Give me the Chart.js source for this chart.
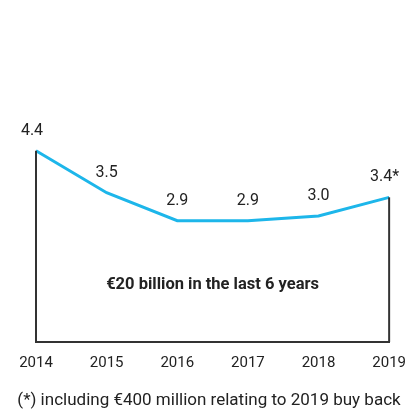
<!DOCTYPE html>
<html>
<head>
<meta charset="utf-8">
<script src="https://cdn.jsdelivr.net/npm/chart.js@4/dist/chart.umd.min.js"></script>
<style>
  html, body { margin: 0; padding: 0; background: #fff; }
  #wrap { width: 418px; height: 412px; }
</style>
</head>
<body>
<div id="wrap"><canvas id="buyback"></canvas></div>
<script>
// Values
const years = ['2014', '2015', '2016', '2017', '2018', '2019'];
const payouts = [4.4, 3.5, 2.9, 2.9, 3.0, 3.4];
const pointLabels = ['4.4', '3.5', '2.9', '2.9', '3.0', '3.4*'];
const boxText = '€20 billion in the last 6 years';
const footnote = '(*) including €400 million relating to 2019 buy back';

const LINE_COLOR = '#1db6ea';
const FRAME_COLOR = '#333333';
const TEXT_COLOR = '#222222';
const FONT = 'Roboto, "Noto Sans", sans-serif';

// Draws the frame sides, value labels and the two text lines
const decorations = {
    id: 'decorations',
    afterDatasetsDraw(chart) {
        const ctx = chart.ctx;
        const xs = chart.scales.x;
        const ys = chart.scales.y;
        const area = chart.chartArea;
        const last = payouts.length - 1;

        ctx.save();
        // vertical sides from the first and last point down to the axis
        ctx.strokeStyle = FRAME_COLOR;
        ctx.lineWidth = 2;
        [0, last].forEach(i => {
            const px = xs.getPixelForValue(i);
            ctx.beginPath();
            ctx.moveTo(px, ys.getPixelForValue(payouts[i]));
            ctx.lineTo(px, area.bottom);
            ctx.stroke();
        });

        // value labels
        ctx.fillStyle = TEXT_COLOR;
        ctx.font = '16px ' + FONT;
        ctx.textBaseline = 'middle';
        pointLabels.forEach((label, i) => {
            let px = xs.getPixelForValue(i);
            const py = ys.getPixelForValue(payouts[i]) - 20;
            ctx.textAlign = 'center';
            if (i === 0) px -= 4;
            if (i === last) {
                ctx.textAlign = 'right';
                px += 10;
            }
            ctx.fillText(label, px, py);
        });

        // text inside the frame
        ctx.font = 'bold 16.5px ' + FONT;
        ctx.textAlign = 'center';
        ctx.fillText(boxText, (area.left + area.right) / 2, 285);

        // footnote
        ctx.font = '17px ' + FONT;
        ctx.fillText(footnote, 209, 401);
        ctx.restore();
    }
};

const ctx = document.getElementById('buyback').getContext('2d');
new Chart(ctx, {
    type: 'line',
    data: {
        labels: years,
        datasets: [{
            data: payouts,
            borderColor: LINE_COLOR,
            borderWidth: 3,
            pointRadius: 0,
            tension: 0,
            fill: false
        }]
    },
    options: {
        responsive: true,
        maintainAspectRatio: false,
        animation: false,
        layout: {
            padding: { left: 36, right: 26, top: 76, bottom: 30 }
        },
        plugins: {
            legend: { display: false },
            tooltip: { enabled: false }
        },
        scales: {
            x: {
                offset: false,
                grid: { display: false, drawTicks: false },
                border: { display: true, color: FRAME_COLOR, width: 2 },
                ticks: {
                    color: TEXT_COLOR,
                    font: { family: FONT, size: 15 },
                    padding: 12,
                    maxRotation: 0,
                    autoSkip: false
                },
                afterFit(scale) { scale.height = 40; }
            },
            y: {
                display: false,
                min: 0.3,
                max: 6
            }
        }
    },
    plugins: [decorations]
});
</script>
</body>
</html>
